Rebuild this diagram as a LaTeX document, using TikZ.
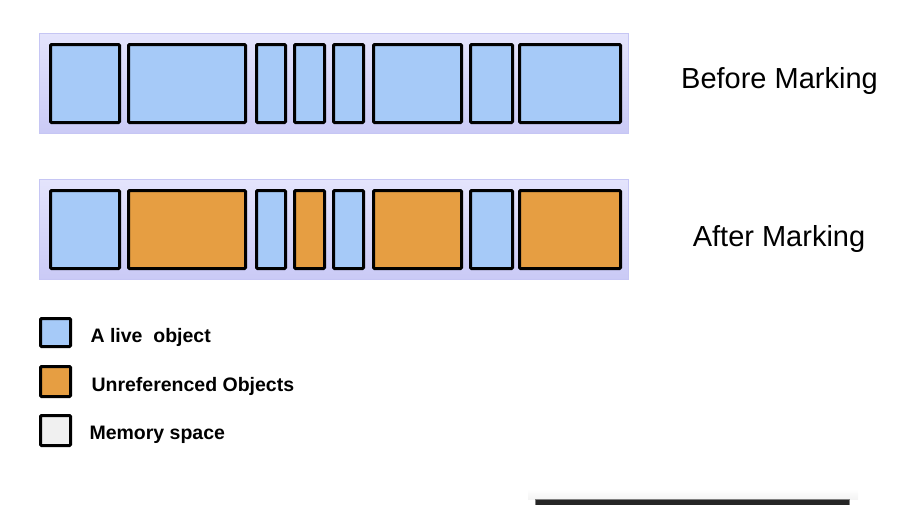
\documentclass[tikz,border=0pt]{standalone}
\usepackage{fontspec}
\setmainfont{Liberation Sans}
\usetikzlibrary{shadings}

\definecolor{liveblue}{RGB}{166,202,248}
\definecolor{deadorange}{RGB}{230,158,66}
\definecolor{heaptop}{RGB}{228,228,252}
\definecolor{heapbottom}{RGB}{202,202,246}
\definecolor{heapedge}{RGB}{198,198,244}
\definecolor{spacegray}{RGB}{240,240,240}

\begin{document}
\begin{tikzpicture}[x=1pt, y=-1pt,
    objbox/.style   = {draw=black, line width=3pt, rounded corners=1pt},
    heapbar/.style  = {top color=heaptop, bottom color=heapbottom,
                       shading=axis, draw=heapedge, line width=1pt},
    marklabel/.style = {font=\fontsize{29}{32}\selectfont},
    legendtext/.style = {anchor=west, font=\fontsize{19.5}{22}\selectfont\bfseries}]
  \useasboundingbox (0,0) rectangle (902,504);
  % heap before marking
  \shade[heapbar] (39.5,33.5) rectangle (628.5,133.5);
  \foreach \a/\b in {49/121, 127/247, 255/287, 293/326,
                     332/365, 372/463, 469/514, 518/622}
    \draw[objbox, fill=liveblue] (\a+1.5,44.5) rectangle (\b-1.5,122.5);
  % heap after marking
  \shade[heapbar] (39.5,179.5) rectangle (628.5,279.5);
  \foreach \a/\b/\c in {49/121/liveblue, 127/247/deadorange,
                        255/287/liveblue, 293/326/deadorange,
                        332/365/liveblue, 372/463/deadorange,
                        469/514/liveblue, 518/622/deadorange}
    \draw[objbox, fill=\c] (\a+1.5,190.5) rectangle (\b-1.5,268.5);
  \node[marklabel] (before) at (779.5,80.5) {Before Marking};
  \node[marklabel] (after)  at (779,238.5)  {After Marking};
  % legend
  \draw[objbox, fill=liveblue]   (40.5,318.5) rectangle (70.5,346.5);
  \draw[objbox, fill=deadorange] (40.5,366.5) rectangle (70.5,396.5);
  \draw[objbox, fill=spacegray]  (40.5,415.5) rectangle (70.5,445.5);
  \node[legendtext] (live)   at (87,337.5) {A live\ \ object};
  \node[legendtext] (unref)  at (88,386.5) {Unreferenced Objects};
  \node[legendtext] (memory) at (86,434.5) {Memory space};
  % clipped bar at the bottom
  \shade[top color=white, bottom color=gray!9] (528,489) rectangle (858,499);
  \fill[black!85, draw=gray, line width=1pt] (535.5,499.5) rectangle (849.5,512);
\end{tikzpicture}
\end{document}
